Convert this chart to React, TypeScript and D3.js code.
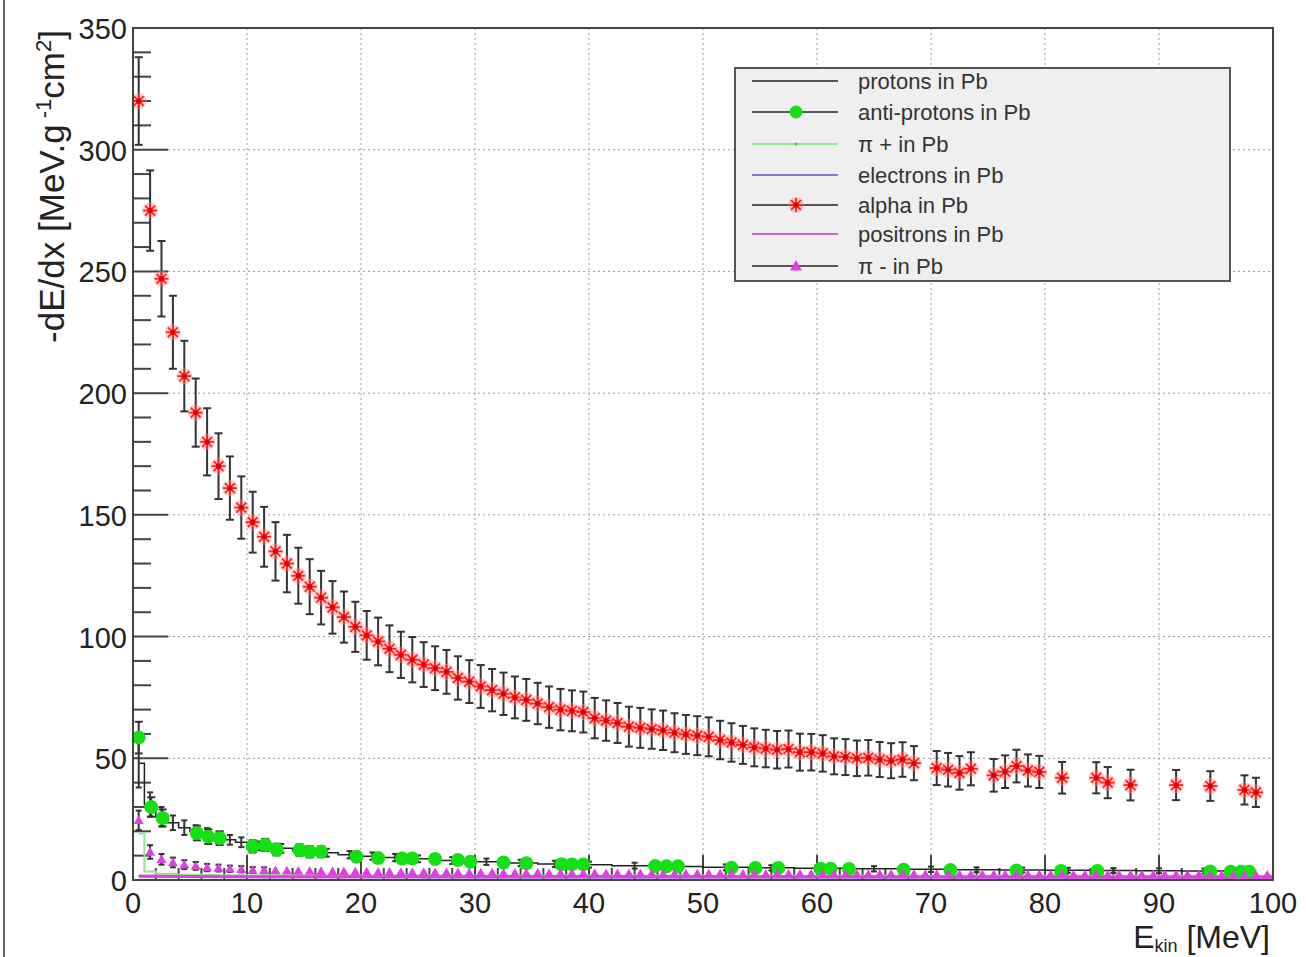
import React from 'react';
import * as d3 from 'd3';

const W = 1306;
const H = 957;

// ---------- data ----------
const alphaE = [0.5,1.5,2.5,3.5,4.5,5.5,6.5,7.5,8.5,9.5,10.5,11.5,12.5,13.5,14.5,15.5,16.5,17.5,18.5,19.5,20.5,21.5,22.5,23.5,24.5,25.5,26.5,27.5,28.5,29.5,30.5,31.5,32.5,33.5,34.5,35.5,36.5,37.5,38.5,39.5,40.5,41.5,42.5,43.5,44.5,45.5,46.5,47.5,48.5,49.5,50.5,51.5,52.5,53.5,54.5,55.5,56.5,57.5,58.5,59.5,60.5,61.5,62.5,63.5,64.5,65.5,66.5,67.5,68.5,
  70.5,71.5,72.5,73.5,75.5,76.5,77.5,78.5,79.5,81.5,84.5,85.5,87.5,91.5,94.5,97.5,98.5];
const alphaV = [320,275,247,225,207,192,180,170,161,153,147,141,135,130,125,120.5,116,112,108,104,100.5,98,95,92.5,90.5,88.5,87,85.5,83,81.5,79.5,78,76.5,75,74,72.5,71,70,69.5,69,66.5,65.5,64.5,63,62.5,62,61.5,60.5,59.8,59.3,58.8,57.5,56.5,55.5,54.5,54,53.5,53.8,52.5,52.5,52,50.8,50.5,50,50.2,49.5,49,49.5,48,
  46,45.3,44,45.7,43,44.5,46.8,45,44.4,42,42,40,39,39,38.6,37,36];
const alphaErr = [18,16.5,15.5,15,14.5,14,13.8,13.5,13,12.8,12.5,12.3,12,11.8,11.5,11.3,11,10.8,10.5,10.3,10,9.8,9.6,9.5,9.3,9.2,9,9,8.9,8.8,8.8,8.7,8.7,8.6,8.6,8.5,8.5,8.5,8.4,8.4,8.3,8.3,8.2,8.2,8.2,8.1,8.1,8,8,8,8,7.9,7.9,7.8,7.8,7.7,7.7,7.6,7.6,7.5,7.5,7.4,7.4,7.3,7.3,7.2,7.2,7.1,7,
  7,6.9,6.9,6.8,6.7,6.7,6.7,6.6,6.6,6.5,6.4,6.4,6.3,6.2,6.1,6,6];

const pbarE = [0.5,1.6,2.6,5.6,6.6,7.6,10.5,11.6,12.6,14.6,15.5,16.5,19.6,21.5,23.6,24.5,26.5,28.5,29.6,32.5,34.5,37.6,38.5,39.5,45.8,46.8,47.8,52.5,54.6,56.6,60.3,61.2,62.8,67.6,71.7,77.5,81.4,84.6,94.5,96.3,97.2,97.9];
const pbarV = [58.5,30,25.5,19.3,17.8,17.2,13.8,14.4,12.5,12.3,11.6,11.6,9.6,9,8.8,8.8,8.6,8.2,7.5,7.2,6.9,6.5,6.4,6.4,5.7,5.6,5.6,5,4.9,4.9,4.6,4.6,4.5,4.2,4.1,3.9,3.7,3.7,3.5,3.4,3.4,3.4];
const pbarErr = [6.5,4,3.5,3,3,2.8,2.5,2.5,2.4,2.3,2.3,2.2,2,2,1.9,1.9,1.8,1.8,1.7,1.7,1.6,1.5,1.5,1.5,1.4,1.4,1.4,1.3,1.3,1.3,1.2,1.2,1.2,1.1,1.1,1.1,1,1,1,1,1,1];

const protonE = [0.5,1.5,2.5,3.5,4.5,5.5,6.5,7.5,8.5,9.5,11,13,15,17,19,21,23,25,28,31,34,37,40,44,48,52,56,60,65,70,74,78,82,86,90,94,98];
const protonV = [48,31,26,23.5,21.5,20,18.8,17.5,16.5,15.5,14,13,12,11.2,10.4,9.8,9.2,8.7,8,7.5,7,6.6,6.3,5.9,5.5,5.2,5,4.8,4.6,4.4,4.2,4.1,4,3.9,3.8,3.7,3.6];
const protonErr = [10,5,4,3,3,2.5,2.5,2.2,2,2,1.8,1.8,1.6,1.6,1.5,1.5,1.5,1.4,1.4,1.3,1.3,1.3,1.2,1.2,1.2,1.2,1.1,1.1,1.1,1.1,1,1,1,1,1,1,1];

const piMinusE = [0.5,1.5,2.5,3.5,4.5,5.5,6.5,7.5,8.5,9.5,10.5,11.5,12.5,13.5,14.5,15.5,16.5,17.5,18.5,19.5,20.5,21.5,22.5,23.5,24.5,25.5,26.5,27.5,28.5,29.5,30.5,31.5,32.5,33.5,34.5,35.5,36.5,37.5,38.5,39.5,40.5,41.5,42.5,43.5,44.5,45.5,46.5,47.5,48.5,49.5,50.5,51.5,52.5,53.5,54.5,55.5,56.5,57.5,58.5,59.5,60.5,61.5,62.5,63.5,64.5,65.5,66.5,67.5,68.5,69.5,70.5,71.5,72.5,73.5,74.5,75.5,76.5,77.5,78.5,79.5,80.5,81.5,82.5,83.5,84.5,85.5,86.5,87.5,88.5,89.5,90.5,91.5,92.5,93.5,94.5,95.5,96.5,97.5,98.5,99.5];
const piMinusV = [24.5,11.5,8.5,7.2,6.3,5.8,5.1,4.9,4.6,4.4,4.1,4.0,3.9,3.8,3.7,3.7,3.6,3.5,3.5,3.4,3.4,3.3,3.3,3.2,3.2,3.2,3.1,3.1,3.1,3.0,3.0,3.0,2.9,2.9,2.9,2.9,2.8,2.8,2.8,2.8,2.8,2.7,2.7,2.7,2.7,2.7,2.6,2.6,2.6,2.6,2.6,2.6,2.6,2.5,2.5,2.5,2.5,2.5,2.5,2.5,2.5,2.4,2.4,2.4,2.4,2.4,2.4,2.4,2.4,2.4,2.4,2.3,2.3,2.3,2.3,2.3,2.3,2.3,2.3,2.3,2.3,2.3,2.2,2.2,2.2,2.2,2.2,2.2,2.2,2.2,2.2,2.2,2.2,2.2,2.1,2.1,2.1,2.1,2.1,2.1];
const piMinusErr = [4,2.8,2.2,2,1.8,1.6,1.5,1.4,1.3,1.3,1.2,1.2];

const piPlusE = [0.5,1.5,2.5,5,10,20,40,60,80,100];
const piPlusV = [19,3.5,2.6,2.2,2,1.9,1.8,1.7,1.7,1.7];
const electronE = [0.5,5,20,50,100];
const electronV = [1.4,1.2,1.1,1.0,1.0];
const positronE = [0.5,5,20,50,100];
const positronV = [1.6,1.4,1.3,1.3,1.2];

const xTicks = [0,10,20,30,40,50,60,70,80,90,100];
const yTicks = [0,50,100,150,200,250,300,350];
const legendLabels = ['protons in Pb','anti-protons in Pb','\u03c0 + in Pb','electrons in Pb','alpha in Pb','positrons in Pb','\u03c0 - in Pb'];

const FONT = '"Liberation Sans", Arial, Helvetica, sans-serif';
const GREEN = '#14e014';
const MAGENTA = '#e040e0';
const RED = '#ff2020';
const BAR = '#333';

function Star({ cx, cy }: { cx: number; cy: number }) {
  const r = 7;
  const lines = [0, 45, 90, 135].map((a) => {
    const t = (a * Math.PI) / 180;
    return (
      <line key={a} x1={cx - r * Math.cos(t)} y1={cy - r * Math.sin(t)} x2={cx + r * Math.cos(t)} y2={cy + r * Math.sin(t)} stroke={RED} strokeWidth={1.8} />
    );
  });
  return (
    <g>
      <circle cx={cx} cy={cy} r={8} fill="#ff9a9a" opacity={0.45} />
      {lines}
      <circle cx={cx} cy={cy} r={2.6} fill="#e00000" />
    </g>
  );
}

function Tri({ cx, cy, s = 6 }: { cx: number; cy: number; s?: number }) {
  return <path d={`M${cx},${cy - s} L${cx + s},${cy + s * 0.75} L${cx - s},${cy + s * 0.75} Z`} fill={MAGENTA} />;
}

function ErrBar({ x, y0, y1, cap = 4 }: { x: number; y0: number; y1: number; cap?: number }) {
  return (
    <g stroke={BAR} strokeWidth={2}>
      <line x1={x} x2={x} y1={y0} y2={y1} />
      <line x1={x - cap} x2={x + cap} y1={y0} y2={y0} />
      <line x1={x - cap} x2={x + cap} y1={y1} y2={y1} />
    </g>
  );
}

export default function App() {
  const x = d3.scaleLinear().domain([0, 100]).range([133, 1273]);
  const y = d3.scaleLinear().domain([0, 350]).range([880, 28]);
  const [x0, x1] = x.range();
  const [y0, y1] = y.range();

  const stepLine = (E: number[], V: number[]) =>
    d3.line<number>().x((_, i) => x(E[i])).y((v) => y(v)).curve(d3.curveStep)(V) || '';
  const polyLine = (E: number[], V: number[]) =>
    d3.line<number>().x((_, i) => x(E[i])).y((v) => y(v))(V) || '';

  const yMinor = d3.range(0, 351, 10).filter((v) => v % 50 !== 0);
  const xMinor = d3.range(0, 101, 2).filter((v) => v % 10 !== 0);

  const legendX = 735, legendY = 68, legendW = 495, legendH = 213;
  const rowY = [81, 112, 144, 175, 205, 234, 266];

  return (
    <svg width={W} height={H} style={{ position: 'absolute', left: 0, top: 0, background: '#fff' }} fontFamily={FONT}>
      <rect x={0} y={0} width={W} height={H} fill="#fff" />
      <line x1={4} x2={4} y1={0} y2={H} stroke="#666" strokeWidth={2} />
      <defs>
        <clipPath id="plot">
          <rect x={x0} y={y1} width={x1 - x0} height={y0 - y1} />
        </clipPath>
      </defs>

      {/* grid */}
      <g stroke="#9a9a9a" strokeWidth={1} strokeDasharray="2 3">
        {xTicks.filter((t) => t > 0 && t < 100).map((t) => (
          <line key={'gx' + t} x1={x(t)} x2={x(t)} y1={y0} y2={y1} />
        ))}
        {yTicks.filter((t) => t > 0 && t < 350).map((t) => (
          <line key={'gy' + t} x1={x0} x2={x1} y1={y(t)} y2={y(t)} />
        ))}
      </g>

      {/* ticks */}
      <g stroke="#444" strokeWidth={2}>
        {yTicks.map((t) => (
          <line key={'yt' + t} x1={x0} x2={x0 + 35} y1={y(t)} y2={y(t)} />
        ))}
        {yMinor.map((t) => (
          <line key={'ym' + t} x1={x0} x2={x0 + 18} y1={y(t)} y2={y(t)} />
        ))}
        {xTicks.map((t) => (
          <line key={'xt' + t} x1={x(t)} x2={x(t)} y1={y0} y2={y0 - 25} />
        ))}
        {xMinor.map((t) => (
          <line key={'xm' + t} x1={x(t)} x2={x(t)} y1={y0} y2={y0 - 12} />
        ))}
      </g>

      <g clipPath="url(#plot)">
        {/* lines */}
        <path d={stepLine(protonE, protonV)} fill="none" stroke="#222" strokeWidth={1.5} />
        <path d={stepLine(piPlusE, piPlusV)} fill="none" stroke="#8ee88e" strokeWidth={2} />
        <path d={polyLine(electronE, electronV)} fill="none" stroke="#6a6ad8" strokeWidth={2} />
        <path d={polyLine(positronE, positronV)} fill="none" stroke={MAGENTA} strokeWidth={3} />

        {/* protons error bars */}
        {protonE.map((e, i) => (
          <ErrBar key={'pe' + i} x={x(e)} y0={y(protonV[i] - protonErr[i])} y1={y(protonV[i] + protonErr[i])} cap={3} />
        ))}

        {/* alpha */}
        {alphaE.map((e, i) => (
          <ErrBar key={'ae' + i} x={x(e)} y0={y(alphaV[i] - alphaErr[i])} y1={y(alphaV[i] + alphaErr[i])} />
        ))}
        {alphaE.map((e, i) => (
          <Star key={'am' + i} cx={x(e)} cy={y(alphaV[i])} />
        ))}

        {/* anti-protons */}
        {pbarE.map((e, i) => (
          <ErrBar key={'be' + i} x={x(e)} y0={y(pbarV[i] - pbarErr[i])} y1={y(pbarV[i] + pbarErr[i])} />
        ))}
        {pbarE.map((e, i) => (
          <circle key={'bm' + i} cx={x(e)} cy={y(pbarV[i])} r={7} fill={GREEN} />
        ))}

        {/* pi- */}
        {piMinusErr.map((er, i) => (
          <ErrBar key={'me' + i} x={x(piMinusE[i])} y0={y(piMinusV[i] - er)} y1={y(piMinusV[i] + er)} cap={3} />
        ))}
        {piMinusE.map((e, i) => (
          <Tri key={'mm' + i} cx={x(e)} cy={y(piMinusV[i])} s={5} />
        ))}
      </g>

      {/* frame */}
      <rect x={x0} y={y1} width={x1 - x0} height={y0 - y1} fill="none" stroke="#444" strokeWidth={2} />

      {/* tick labels */}
      <g fontSize={29} fill="#222">
        {yTicks.map((t) => (
          <text key={'yl' + t} x={x0 - 6} y={y(t) + 11} textAnchor="end">{t}</text>
        ))}
        {xTicks.map((t) => (
          <text key={'xl' + t} x={x(t)} y={y0 + 33} textAnchor="middle">{t}</text>
        ))}
      </g>

      {/* axis titles */}
      <text x={1270} y={948} textAnchor="end" fontSize={32} fill="#222">
        E<tspan fontSize={18} dy={4}>kin</tspan><tspan dy={-4}> [MeV]</tspan>
      </text>
      <text transform="translate(64,30) rotate(-90)" textAnchor="end" fontSize={35} fill="#222">
        -dE/dx [MeV.g<tspan fontSize={22} dy={-13}> -1</tspan><tspan dy={13}>cm</tspan><tspan fontSize={22} dy={-13}>2</tspan><tspan dy={13}>]</tspan>
      </text>

      {/* legend */}
      <rect x={legendX} y={legendY} width={legendW} height={legendH} fill="#efefef" stroke="#555" strokeWidth={2} />
      {legendLabels.map((lab, i) => {
        const ry = rowY[i];
        const lineColor = i === 2 ? '#8ee88e' : i === 3 ? '#7a7ae0' : i === 5 ? '#d060d0' : '#555';
        return (
          <g key={'lg' + i}>
            <line x1={752} x2={838} y1={ry} y2={ry} stroke={lineColor} strokeWidth={2} />
            {i === 1 && <circle cx={796} cy={ry} r={6.5} fill={GREEN} />}
            {i === 2 && <circle cx={796} cy={ry} r={1.5} fill="#4c4" />}
            {i === 4 && <Star cx={796} cy={ry} />}
            {i === 6 && <Tri cx={796} cy={ry} s={6} />}
            <text x={858} y={ry} dy="0.35em" fontSize={22} fill="#333">{lab}</text>
          </g>
        );
      })}
    </svg>
  );
}
